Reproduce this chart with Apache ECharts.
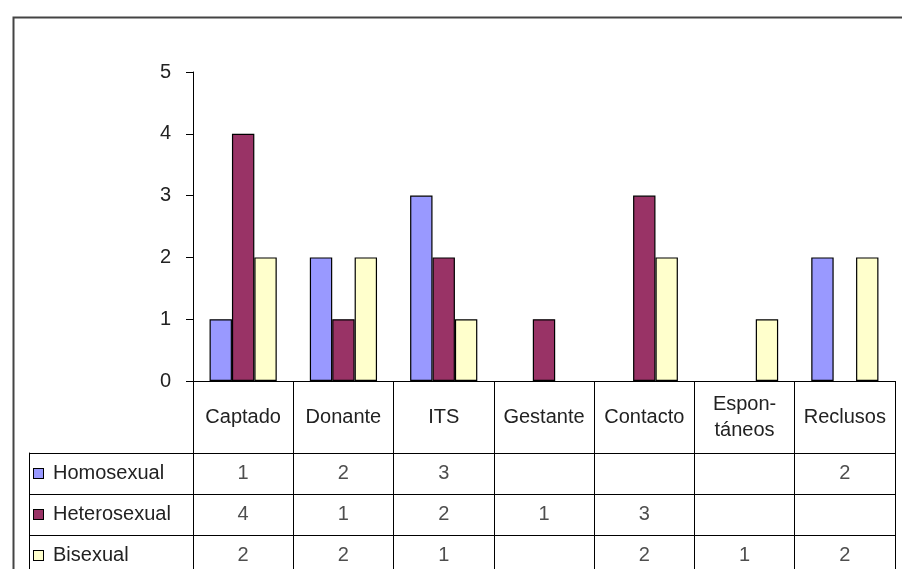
<!DOCTYPE html>
<html>
<head>
<meta charset="utf-8">
<script src="https://cdn.jsdelivr.net/npm/echarts@6/dist/echarts.min.js"></script>
<style>
html,body{margin:0;padding:0;background:#fff;}
#chart{width:902px;height:569px;}
</style>
</head>
<body>
<div id="chart"></div>
<script>
const categories = ['Captado', 'Donante', 'ITS', 'Gestante', 'Contacto', 'Espon-\ntáneos', 'Reclusos'];
const seriesNames = ['Homosexual', 'Heterosexual', 'Bisexual'];
const homosexual = [1, 2, 3, null, null, null, 2];
const heterosexual = [4, 1, 2, 1, 3, null, null];
const bisexual = [2, 2, 1, null, 2, 1, 2];
const yTicks = [0, 1, 2, 3, 4, 5];

const colors = ['#9999FF', '#993366', '#FFFFCC'];
const values = [homosexual, heterosexual, bisexual];
const FONT = "Arial, 'Liberation Sans', sans-serif";
const TXT = '#222';
const FS = 20;

const chart = echarts.init(document.getElementById('chart'));

const barSeries = seriesNames.map((name, i) => ({
  name: name,
  type: 'bar',
  xAxisIndex: 0,
  yAxisIndex: 0,
  data: values[i],
  barGap: '0%',
  barCategoryGap: '33%',
  itemStyle: { color: colors[i], borderColor: '#000', borderWidth: 1.2 },
  emphasis: { disabled: true },
  animation: false
}));

const cellSeries = seriesNames.map((name, i) => ({
  name: name + '-table',
  type: 'scatter',
  xAxisIndex: 2,
  yAxisIndex: 2,
  symbolSize: 1,
  itemStyle: { color: 'rgba(0,0,0,0)' },
  data: values[i].map((v, c) => v == null ? null : [categories[c], name, v]).filter(d => d),
  label: {
    show: true,
    position: 'inside',
    formatter: p => String(p.value[2]),
    fontFamily: FONT,
    fontSize: FS,
    color: TXT
  },
  emphasis: { disabled: true },
  animation: false
}));

const rich = { t: { fontFamily: FONT, fontSize: FS, color: TXT, padding: [0, 0, 0, 10] } };
seriesNames.forEach((n, i) => {
  rich['s' + i] = { width: 9, height: 9, backgroundColor: colors[i], borderColor: '#000', borderWidth: 1 };
});

const blackLine = { show: true, lineStyle: { color: '#000', width: 1 } };

chart.setOption({
  backgroundColor: '#fff',
  animation: false,
  textStyle: { fontFamily: FONT },
  graphic: [{
    type: 'rect',
    left: 11, top: 15,
    shape: { width: 1000, height: 1000 },
    style: { fill: 'none', stroke: '#444', lineWidth: 2 },
    silent: true
  }],
  grid: [
    { left: 193, right: 7, top: 72, height: 309, outerBoundsMode: 'none', containLabel: false },
    { left: 193, right: 7, top: 381, height: 72, outerBoundsMode: 'none', containLabel: false },
    { left: 193, right: 7, top: 453, height: 123, outerBoundsMode: 'none', containLabel: false },
    { left: 29, width: 164, top: 453, height: 123, outerBoundsMode: 'none', containLabel: false }
  ],
  xAxis: [
    { gridIndex: 0, type: 'category', data: categories, axisLine: blackLine, axisTick: { show: false }, axisLabel: { show: false } },
    { gridIndex: 1, type: 'category', data: categories, position: 'top',
      axisLine: { show: false }, axisTick: { show: false },
      axisLabel: { show: true, inside: true, margin: 36, verticalAlign: 'middle', lineHeight: 26, interval: 0, fontFamily: FONT, fontSize: FS, color: TXT },
      splitLine: blackLine },
    { gridIndex: 2, type: 'category', data: categories,
      axisLine: { show: false }, axisTick: { show: false }, axisLabel: { show: false },
      splitLine: blackLine },
    { gridIndex: 3, type: 'value', show: false }
  ],
  yAxis: [
    { gridIndex: 0, type: 'value', min: yTicks[0], max: yTicks[yTicks.length - 1], interval: 1,
      axisLine: blackLine,
      axisTick: { show: true, length: 7, lineStyle: { color: '#000' } },
      axisLabel: { margin: 22, fontFamily: FONT, fontSize: FS, color: TXT },
      splitLine: { show: false } },
    { gridIndex: 1, type: 'value', show: false },
    { gridIndex: 2, type: 'category', data: seriesNames, inverse: true,
      axisLine: { show: false }, axisTick: { show: false }, axisLabel: { show: false },
      splitLine: blackLine },
    { gridIndex: 3, type: 'category', data: seriesNames, inverse: true,
      axisLine: blackLine, axisTick: { show: false },
      axisLabel: { show: true, inside: true, margin: 5, align: 'left',
        formatter: (v, idx) => '{s' + idx + '|}{t|' + v + '}', rich: rich },
      splitLine: blackLine }
  ],
  series: barSeries.concat(cellSeries)
});
</script>
</body>
</html>
